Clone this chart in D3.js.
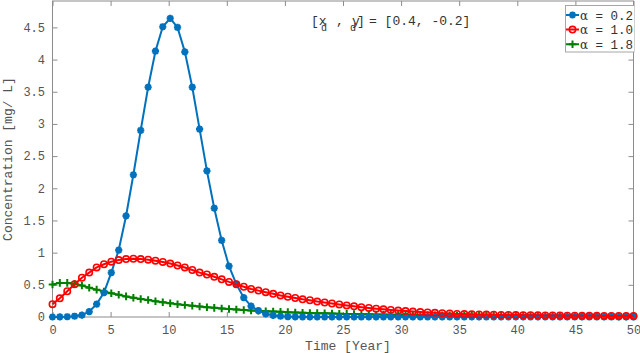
<!DOCTYPE html>
<html>
<head>
<meta charset="utf-8">
<script src="https://cdn.jsdelivr.net/npm/d3@7/dist/d3.min.js"></script>
<style>
  body { margin: 0; background: #fff; }
  svg { display: block; }
  .tick text { font-family: "Liberation Mono", monospace; font-size: 12px; fill: #555; }
</style>
</head>
<body>
<svg id="chart" width="640" height="353"></svg>
<script>
// sample times (80 points from 0 to 50)
var time = [0, 0.63, 1.27, 1.90, 2.53, 3.16, 3.80, 4.43, 5.06, 5.70,
  6.33, 6.96, 7.59, 8.23, 8.86, 9.49, 10.13, 10.76, 11.39, 12.03,
  12.66, 13.29, 13.92, 14.56, 15.19, 15.82, 16.46, 17.09, 17.72, 18.35,
  18.99, 19.62, 20.25, 20.89, 21.52, 22.15, 22.78, 23.42, 24.05, 24.68,
  25.32, 25.95, 26.58, 27.22, 27.85, 28.48, 29.11, 29.75, 30.38, 31.01,
  31.65, 32.28, 32.91, 33.54, 34.18, 34.81, 35.44, 36.08, 36.71, 37.34,
  37.97, 38.61, 39.24, 39.87, 40.51, 41.14, 41.77, 42.41, 43.04, 43.67,
  44.30, 44.94, 45.57, 46.20, 46.84, 47.47, 48.10, 48.73, 49.37, 50];

// alpha = 0.2
var conc02 = [0, 0.001, 0.004, 0.012, 0.03, 0.085, 0.20, 0.38, 0.69, 1.04,
  1.57, 2.21, 2.90, 3.57, 4.13, 4.51, 4.64, 4.50, 4.12, 3.57,
  2.92, 2.27, 1.69, 1.19, 0.79, 0.51, 0.30, 0.17, 0.10, 0.05,
  0.025, 0.012, 0.006, 0.003, 0.001, 0, 0, 0, 0, 0,
  0, 0, 0, 0, 0, 0, 0, 0, 0, 0,
  0, 0, 0, 0, 0, 0, 0, 0, 0, 0,
  0, 0, 0, 0, 0, 0, 0, 0, 0, 0,
  0, 0, 0, 0, 0, 0, 0, 0, 0, 0];

// alpha = 1.0
var conc10 = [0.20, 0.29, 0.40, 0.51, 0.61, 0.69, 0.77, 0.82, 0.86, 0.885,
  0.90, 0.905, 0.90, 0.89, 0.875, 0.855, 0.83, 0.80, 0.77, 0.73,
  0.69, 0.66, 0.625, 0.585, 0.545, 0.51, 0.47, 0.435, 0.41, 0.385,
  0.36, 0.335, 0.315, 0.295, 0.275, 0.26, 0.24, 0.225, 0.21, 0.195,
  0.18, 0.166, 0.153, 0.141, 0.13, 0.119, 0.109, 0.10, 0.092, 0.084,
  0.077, 0.071, 0.065, 0.06, 0.055, 0.048, 0.045, 0.042, 0.039, 0.037,
  0.035, 0.033, 0.031, 0.03, 0.028, 0.027, 0.026, 0.024, 0.023, 0.022,
  0.021, 0.02, 0.019, 0.018, 0.018, 0.017, 0.016, 0.016, 0.015, 0.015];

// alpha = 1.8
var conc18 = [0.505, 0.53, 0.53, 0.515, 0.49, 0.455, 0.425, 0.395, 0.37, 0.345,
  0.32, 0.30, 0.28, 0.265, 0.245, 0.23, 0.213, 0.198, 0.186, 0.174,
  0.163, 0.152, 0.142, 0.133, 0.124, 0.116, 0.109, 0.102, 0.096, 0.09,
  0.085, 0.08, 0.075, 0.071, 0.067, 0.063, 0.06, 0.057, 0.054, 0.051,
  0.048, 0.046, 0.044, 0.042, 0.04, 0.038, 0.036, 0.034, 0.033, 0.031,
  0.03, 0.029, 0.027, 0.026, 0.025, 0.024, 0.023, 0.022, 0.021, 0.02,
  0.019, 0.019, 0.018, 0.017, 0.017, 0.016, 0.015, 0.015, 0.014, 0.014,
  0.013, 0.013, 0.012, 0.012, 0.011, 0.011, 0.011, 0.01, 0.01, 0.01];

var xTicks = [0, 5, 10, 15, 20, 25, 30, 35, 40, 45, 50];
var yTicks = [0, 0.5, 1, 1.5, 2, 2.5, 3, 3.5, 4, 4.5];
var legendLabels = ["0.2", "1.0", "1.8"];

var svg = d3.select("#chart");
var plotL = 52.5, plotR = 633.5, plotT = 1, plotB = 317;

var x = d3.scaleLinear().domain([0, 50]).range([plotL, plotR]);
var y = d3.scaleLinear().domain([0, 4.91]).range([plotB, plotT]);

// clip for the legend text running past the axes edge
svg.append("clipPath").attr("id", "edge")
  .append("rect").attr("x", 0).attr("y", 0).attr("width", 634.5).attr("height", 353);

// axes: inward ticks on all four sides
var axisColor = "#8c8c8c";
function styleAxis(g, noLabels) {
  g.select(".domain").remove();
  g.selectAll(".tick line").attr("stroke", axisColor);
  if (noLabels) g.selectAll(".tick text").remove();
}
svg.append("g").attr("transform", "translate(0," + plotB + ")")
  .call(d3.axisBottom(x).tickValues(xTicks).tickSizeInner(-5).tickSizeOuter(0).tickPadding(8.5).tickFormat(d3.format("d")))
  .call(function (g) { styleAxis(g, false); });
svg.append("g").attr("transform", "translate(0," + plotT + ")")
  .call(d3.axisTop(x).tickValues(xTicks).tickSizeInner(-5).tickSizeOuter(0))
  .call(function (g) { styleAxis(g, true); });
svg.append("g").attr("transform", "translate(" + plotL + ",0)")
  .call(d3.axisLeft(y).tickValues(yTicks).tickSizeInner(-5).tickSizeOuter(0).tickPadding(7.5).tickFormat(function (d) { return d; }))
  .call(function (g) { styleAxis(g, false); });
svg.append("g").attr("transform", "translate(" + plotR + ",0)")
  .call(d3.axisRight(y).tickValues(yTicks).tickSizeInner(-5).tickSizeOuter(0))
  .call(function (g) { styleAxis(g, true); });

svg.append("rect")
  .attr("x", plotL).attr("y", plotT)
  .attr("width", plotR - plotL).attr("height", plotB - plotT)
  .attr("fill", "none").attr("stroke", axisColor).attr("stroke-width", 1);

// marker shapes
function starPath(s) {
  var a = s * 0.72;
  return "M" + (-s) + ",0H" + s + "M0," + (-s) + "V" + s +
    "M" + (-a) + "," + (-a) + "L" + a + "," + a + "M" + (-a) + "," + a + "L" + a + "," + (-a);
}
function plusPath(s) {
  return "M" + (-s) + ",0H" + s + "M0," + (-s) + "V" + s;
}

var series = [
  { name: "g", values: conc18, color: "#008000", marker: "plus" },
  { name: "b", values: conc02, color: "#0072BD", marker: "star" },
  { name: "r", values: conc10, color: "#FF0000", marker: "circle" }
];

var line = d3.line()
  .x(function (d) { return x(d[0]); })
  .y(function (d) { return y(d[1]); });

function drawMarker(g, kind, color) {
  if (kind === "circle") {
    g.append("circle").attr("r", 3.2).attr("fill", "none")
      .attr("stroke", color).attr("stroke-width", 1.6);
  } else if (kind === "star") {
    g.append("path").attr("d", starPath(3.6)).attr("fill", "none")
      .attr("stroke", color).attr("stroke-width", 2.2);
  } else {
    g.append("path").attr("d", plusPath(3.8)).attr("fill", "none")
      .attr("stroke", color).attr("stroke-width", 2);
  }
}

series.forEach(function (s) {
  var pts = time.map(function (t, i) { return [t, s.values[i]]; });
  var g = svg.append("g");
  g.append("path").datum(pts)
    .attr("d", line)
    .attr("fill", "none")
    .attr("stroke", s.color)
    .attr("stroke-width", 2);
  g.selectAll(".m").data(pts).enter().append("g")
    .attr("transform", function (d) { return "translate(" + x(d[0]) + "," + y(d[1]) + ")"; })
    .each(function () { drawMarker(d3.select(this), s.marker, s.color); });
});

// axis labels
svg.append("text")
  .attr("x", (plotL + plotR) / 2 + 5).attr("y", 350)
  .attr("text-anchor", "middle")
  .style("font-family", "Liberation Mono, monospace").style("font-size", "13px").style("fill", "#555")
  .text("Time [Year]");
svg.append("text")
  .attr("transform", "translate(12," + ((plotT + plotB) / 2) + ") rotate(-90)")
  .attr("text-anchor", "middle")
  .style("font-family", "Liberation Mono, monospace").style("font-size", "13px").style("fill", "#555")
  .text("Concentration [mg/ L]");

// annotation [x_d , y_d] = [0.4, -0.2]
var ann = svg.append("g")
  .style("font-family", "Liberation Mono, monospace").style("font-size", "13px").style("fill", "#333");
ann.append("text").attr("x", 311).attr("y", 25).text("[x");
ann.append("text").attr("x", 321).attr("y", 31).style("font-size", "10px").text("d");
ann.append("text").attr("x", 336).attr("y", 25).text(",");
ann.append("text").attr("x", 352).attr("y", 25).text("y");
ann.append("text").attr("x", 350).attr("y", 31).style("font-size", "10px").text("d");
ann.append("text").attr("x", 357).attr("y", 25).text("]");
ann.append("text").attr("x", 369).attr("y", 25).text("= [0.4, -0.2]");

// legend
var leg = svg.append("g").attr("clip-path", "url(#edge)");
leg.append("rect")
  .attr("x", 565.5).attr("y", 5.5).attr("width", 69).attr("height", 46.5)
  .attr("fill", "#fff").attr("stroke", "#a6a6a6").attr("stroke-width", 1);
var legendSeries = [series[1], series[2], series[0]];
legendSeries.forEach(function (s, i) {
  var ly = 15 + i * 14.6;
  leg.append("line").attr("x1", 566).attr("x2", 579).attr("y1", ly).attr("y2", ly)
    .attr("stroke", s.color).attr("stroke-width", 2);
  var mg = leg.append("g").attr("transform", "translate(572.5," + ly + ")");
  drawMarker(mg, s.marker, s.color);
  var t = leg.append("text").attr("x", 580).attr("y", ly + 4.5)
    .style("font-family", "Liberation Mono, monospace").style("font-size", "12.5px").style("fill", "#333");
  t.append("tspan").style("font-family", "DejaVu Serif, serif").style("font-size", "12px").text("\u03b1");
  t.append("tspan").attr("xml:space", "preserve").text(" = " + legendLabels[i]);
});
</script>
</body>
</html>
